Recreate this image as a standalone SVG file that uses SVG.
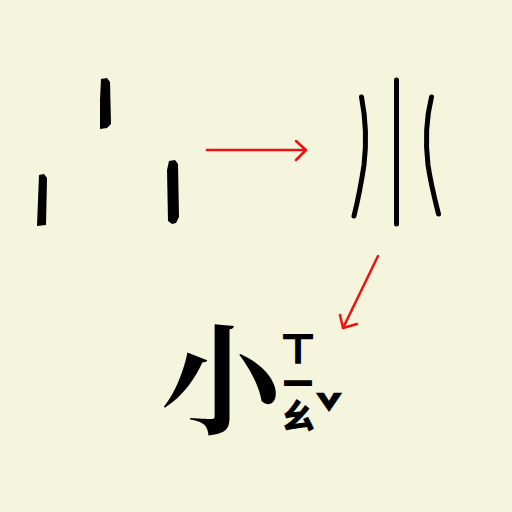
<svg xmlns="http://www.w3.org/2000/svg" width="512" height="512" viewBox="0 0 512 512">
<style>
.ink{fill:#000;stroke:none}
.curve{fill:none;stroke:#000;stroke-width:5;stroke-linecap:round}
.arrow{fill:none;stroke:#ee1111;stroke-width:2.5;stroke-linecap:round;stroke-linejoin:round}
.han{font-family:"Noto Serif CJK TC","Noto Sans CJK TC",serif;font-weight:bold}
.zy{font-family:"Noto Sans CJK TC",sans-serif;font-weight:900}
</style>
<rect width="512" height="512" fill="#F5F4DC"/>
<g id="strokes-oracle">
<path class="ink" d="M101,79 L107,78 L110,82 L111,124 L107,128 L100,129 L100,100 Z"/>
<path class="ink" d="M39,175 L44,174 L47,178 L46,225 L37,226 L38,200 Z"/>
<path class="ink" d="M169,161 L175,160 L178,164 L179,217 L176,223 L172,224 L168,221 L167,170 Z"/>
</g>
<g id="strokes-seal">
<path class="curve" d="M396.5,80 L396.5,224"/>
<path class="curve" d="M361.5,97 C365,115 367,140 364,165 C361,185 358,200 354,216"/>
<path class="curve" d="M431.5,97 C427,115 425,140 428,165 C431,185 435,200 438.5,214"/>
</g>
<g id="connectors">
<path class="arrow" d="M207,150 L306,150 M296,141 L306,150 L296,160"/>
<path class="arrow" d="M378,256 L343,328 M340,315 L343,328 L357,324"/>
</g>
<g id="char-xiao">
<text class="han" x="221" y="425" font-size="120" text-anchor="middle">小</text>
</g>
<g id="zhuyin">
<text class="zy" x="298" y="330" font-size="36" writing-mode="vertical-rl" letter-spacing="1.5">ㄒㄧㄠ</text>
<text class="zy" x="329" y="429" font-size="44" text-anchor="middle">ˇ</text>
</g>
</svg>
